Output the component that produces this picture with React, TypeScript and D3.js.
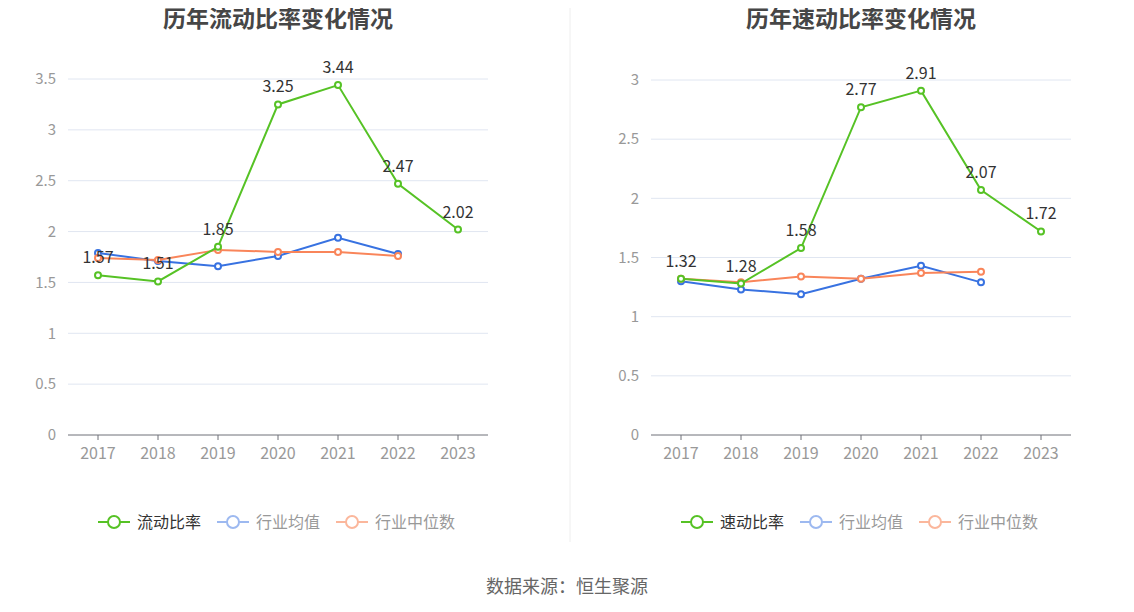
import React from 'react';
import * as d3 from 'd3';

const years = ['2017', '2018', '2019', '2020', '2021', '2022', '2023'];

const currentRatio = [1.57, 1.51, 1.85, 3.25, 3.44, 2.47, 2.02];
const currentMean = [1.79, 1.71, 1.66, 1.76, 1.94, 1.78];
const currentMedian = [1.74, 1.72, 1.82, 1.8, 1.8, 1.76];
const currentTicks = [0, 0.5, 1, 1.5, 2, 2.5, 3, 3.5];

const quickRatio = [1.32, 1.28, 1.58, 2.77, 2.91, 2.07, 1.72];
const quickMean = [1.3, 1.23, 1.19, 1.32, 1.43, 1.29];
const quickMedian = [1.32, 1.29, 1.34, 1.32, 1.37, 1.38];
const quickTicks = [0, 0.5, 1, 1.5, 2, 2.5, 3];

const GREEN = '#56c225';
const BLUE = '#3872e1';
const ORANGE = '#f9855a';
const FONT = '"Noto Sans CJK SC", "Noto Sans", sans-serif';

type PanelProps = {
  left: number;
  title: string;
  mainName: string;
  main: number[];
  mean: number[];
  median: number[];
  ticks: number[];
};

function Panel({ left, title, mainName, main, mean, median, ticks }: PanelProps) {
  const width = 420;
  const top = ticks[ticks.length - 1] === 3.5 ? 79 : 80;
  const bottom = 435;
  const x = d3.scaleBand<string>().domain(years).range([left, left + width]);
  const cx = (i: number) => (x(years[i]) ?? 0) + x.bandwidth() / 2;
  const y = d3
    .scaleLinear()
    .domain([0, ticks[ticks.length - 1]])
    .range([bottom, top]);
  const line = d3
    .line<number>()
    .x((_, i) => cx(i))
    .y((d) => y(d));

  const series = [
    { data: mean, color: BLUE },
    { data: median, color: ORANGE },
    { data: main, color: GREEN },
  ];

  const legend = [
    { name: mainName, color: GREEN, text: '#333' },
    { name: '行业均值', color: '#9db9f0', text: '#999' },
    { name: '行业中位数', color: '#fbb79c', text: '#999' },
  ];
  const legendStart = left + 30;

  return (
    <g fontFamily={FONT}>
      <text
        x={left + width / 2}
        y={27}
        textAnchor="middle"
        fontSize={23}
        fontWeight="bold"
        fill="#464646"
      >
        {title}
      </text>
      {ticks.map((t) => (
        <g key={t}>
          {t > 0 && (
            <line x1={left} x2={left + width} y1={y(t)} y2={y(t)} stroke="#e0e6f1" />
          )}
          <text
            x={left - 12}
            y={y(t)}
            dy="0.35em"
            textAnchor="end"
            fontSize={15}
            fill="#999"
          >
            {t}
          </text>
        </g>
      ))}
      <line x1={left} x2={left + width} y1={bottom} y2={bottom} stroke="#6e7079" />
      {years.map((yr, i) => (
        <g key={yr}>
          <line x1={cx(i)} x2={cx(i)} y1={bottom} y2={bottom + 5} stroke="#6e7079" />
          <text x={cx(i)} y={bottom + 24} textAnchor="middle" fontSize={16} fill="#999">
            {yr}
          </text>
        </g>
      ))}
      {series.map((s) => (
        <g key={s.color}>
          <path d={line(s.data) ?? ''} fill="none" stroke={s.color} strokeWidth={2} />
          {s.data.map((v, i) => (
            <circle
              key={i}
              cx={cx(i)}
              cy={y(v)}
              r={3}
              fill="#fff"
              stroke={s.color}
              strokeWidth={2}
            />
          ))}
        </g>
      ))}
      {main.map((v, i) => (
        <text
          key={i}
          x={cx(i)}
          y={y(v) - 12}
          textAnchor="middle"
          fontSize={16}
          fill="#333"
        >
          {v.toFixed(2)}
        </text>
      ))}
      {legend.map((l, i) => {
        const lx = legendStart + i * 119;
        return (
          <g key={l.name}>
            <line x1={lx} x2={lx + 32} y1={522} y2={522} stroke={l.color} strokeWidth={2} />
            <circle cx={lx + 16} cy={522} r={6} fill="#fff" stroke={l.color} strokeWidth={2} />
            <text x={lx + 39} y={522} dy="0.35em" fontSize={16} fill={l.text}>
              {l.name}
            </text>
          </g>
        );
      })}
    </g>
  );
}

export default function App() {
  return (
    <svg width={1134} height={612} style={{ display: 'block', margin: '-8px' }}>
      <rect width={1134} height={612} fill="#fff" />
      <line x1={570} x2={570} y1={0} y2={542} stroke="#eeeeee" />
      <Panel
        left={68}
        title="历年流动比率变化情况"
        mainName="流动比率"
        main={currentRatio}
        mean={currentMean}
        median={currentMedian}
        ticks={currentTicks}
      />
      <Panel
        left={651}
        title="历年速动比率变化情况"
        mainName="速动比率"
        main={quickRatio}
        mean={quickMean}
        median={quickMedian}
        ticks={quickTicks}
      />
      <text
        x={567}
        y={587}
        dy="0.35em"
        textAnchor="middle"
        fontSize={18}
        fill="#666"
        fontFamily={FONT}
      >
        数据来源：恒生聚源
      </text>
    </svg>
  );
}
